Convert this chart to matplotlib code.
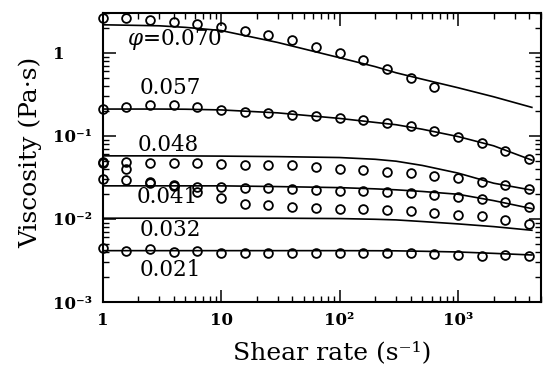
import numpy as np
import matplotlib
matplotlib.use('Agg')
import matplotlib.pyplot as plt
from matplotlib.ticker import FixedLocator, LogLocator, NullFormatter

plt.rcParams['font.family'] = 'DejaVu Serif'
plt.rcParams['mathtext.fontset'] = 'dejavuserif'

# volume fractions, top to bottom
phi_labels = ['0.070', '0.057', '0.048', '0.041', '0.032', '0.021']

# measured shear rates (s^-1), 5 points per decade
rate_log = [0.0, 0.2, 0.4, 0.6, 0.8, 1.0, 1.2, 1.4, 1.6, 1.8,
            2.0, 2.2, 2.4, 2.6, 2.8, 3.0, 3.2, 3.4, 3.6]
rate = [10 ** v for v in rate_log]

# measured viscosities (Pa s)
eta_070 = [2.62, 2.62, 2.45, 2.32, 2.24, 2.02, 1.81, 1.65, 1.41, 1.18,
           0.992, 0.807, 0.637, 0.490, 0.382]
eta_057 = [0.210, 0.222, 0.236, 0.236, 0.222, 0.202, 0.196, 0.188, 0.179, 0.174,
           0.163, 0.153, 0.142, 0.130, 0.115, 0.0981, 0.0817, 0.0665, 0.0524]
eta_048 = [0.0486, 0.0490, 0.0469, 0.0469, 0.0469, 0.0460, 0.0448, 0.0448, 0.0441, 0.0417,
           0.0397, 0.0389, 0.0371, 0.0355, 0.0330, 0.0309, 0.0281, 0.0257, 0.0228]
eta_041 = [0.0303, 0.0295, 0.0269, 0.0257, 0.0245, 0.0245, 0.0238, 0.0234, 0.0228, 0.0224,
           0.0219, 0.0217, 0.0213, 0.0207, 0.0195, 0.0182, 0.0173, 0.0161, 0.0138]
eta_032 = [0.0473, 0.0400, 0.0281, 0.0250, 0.0210, 0.0178, 0.0150, 0.0147, 0.0138, 0.0135,
           0.0131, 0.0131, 0.0128, 0.0126, 0.0117, 0.0112, 0.0107, 0.00973, 0.00871]
eta_021 = [0.00444, 0.00415, 0.00431, 0.00404, 0.00411, 0.00393, 0.00393, 0.00386, 0.00393, 0.00386,
           0.00386, 0.00386, 0.00386, 0.00393, 0.00375, 0.00368, 0.00361, 0.00368, 0.00358]

# model curves
fit_rate = [1, 3, 5, 10, 30, 100, 200, 300, 500, 1000, 2000, 4200]
fit_070 = [2.17, 2.11, 2.02, 1.85, 1.33, 0.871, 0.68, 0.574, 0.480, 0.379, 0.295, 0.220]
fit_057 = [0.210, 0.210, 0.209, 0.205, 0.189, 0.162, 0.145, 0.136, 0.120, 0.098, 0.0758, 0.051]
fit_048 = [0.0574, 0.0574, 0.0573, 0.0570, 0.0562, 0.0548, 0.0522, 0.0495, 0.0440, 0.0356, 0.0269, 0.0222]
fit_041 = [0.0250, 0.0250, 0.0250, 0.0250, 0.0245, 0.0238, 0.0230, 0.0224, 0.0214, 0.0198, 0.0166, 0.0133]
fit_032 = [0.0102, 0.0102, 0.0102, 0.0102, 0.0102, 0.0101, 0.0099, 0.00973, 0.00930, 0.00871, 0.00808, 0.00730]
fit_021 = [0.00415, 0.00415, 0.00415, 0.00415, 0.00415, 0.00415, 0.00414, 0.00413, 0.00408, 0.00400, 0.00385, 0.00368]

data = [eta_070, eta_057, eta_048, eta_041, eta_032, eta_021]
fits = [fit_070, fit_057, fit_048, fit_041, fit_032, fit_021]

# label positions in axes fractions
label_pos = [(0.165, 0.907), (0.154, 0.740), (0.149, 0.543),
             (0.147, 0.363), (0.154, 0.249), (0.154, 0.111)]

fig = plt.figure(figsize=(5.43, 3.74), dpi=100)
ax = fig.add_axes([0.189, 0.1925, 0.807, 0.7725])

for eta, fit in zip(data, fits):
    ax.plot(fit_rate, fit, color='black', lw=1.2)
    ax.plot(rate[:len(eta)], eta, linestyle='none', marker='o', ms=6.3,
            mfc='none', mec='black', mew=1.3, clip_on=False)

for i, (txt, (px, py)) in enumerate(zip(phi_labels, label_pos)):
    if i == 0:
        txt = r'$\varphi$=' + txt
    ax.text(px, py, txt, transform=ax.transAxes, ha='center', va='center',
            fontsize=15.5)

ax.set_xscale('log')
ax.set_yscale('log')
ax.set_xlim(1, 5000)
ax.set_ylim(1e-3, 3)

ax.xaxis.set_major_locator(FixedLocator([1, 10, 100, 1000]))
ax.set_xticklabels(['1', '10', '10²', '10³'])
ax.xaxis.set_minor_locator(LogLocator(base=10, subs=np.arange(2, 10)))
ax.xaxis.set_minor_formatter(NullFormatter())
ax.yaxis.set_major_locator(FixedLocator([1e-3, 1e-2, 1e-1, 1]))
ax.set_yticklabels(['10⁻³', '10⁻²', '10⁻¹', '1'])
ax.yaxis.set_minor_locator(LogLocator(base=10, subs=np.arange(2, 10)))
ax.yaxis.set_minor_formatter(NullFormatter())

ax.tick_params(which='both', direction='in', top=True, right=True, colors='black')
ax.tick_params(which='major', length=9, width=1.1)
ax.tick_params(which='minor', length=4.5, width=1.0)
ax.tick_params(axis='x', which='major', pad=7)
ax.tick_params(axis='y', which='major', pad=36)
for lab in ax.get_yticklabels():
    lab.set_horizontalalignment('left')
for lab in ax.get_xticklabels() + ax.get_yticklabels():
    lab.set_fontweight('bold')
    lab.set_fontsize(12)

for sp in ax.spines.values():
    sp.set_linewidth(1.5)

fig.text(332 / 543, 1 - 353 / 374, 'Shear rate (s⁻¹)', ha='center', va='center', fontsize=18)
fig.text(30 / 543, 1 - 152 / 374, 'Viscosity (Pa·s)', ha='center', va='center',
         rotation=90, fontsize=18)

fig.savefig('out.png', dpi=100)
